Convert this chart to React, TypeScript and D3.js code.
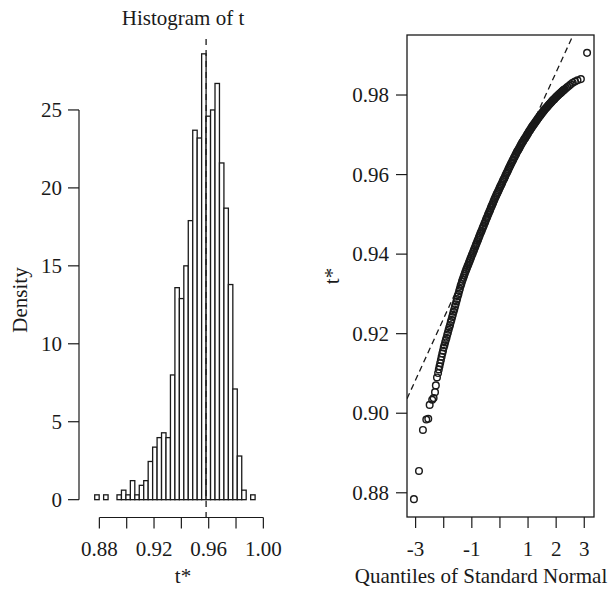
import React, { useEffect, useRef } from "react";
import * as d3 from "d3";

// bootstrap replicates t*: histogram of densities and a normal QQ plot
const t0 = 0.9581; // original statistic, dashed line in the histogram
const binWidth = 0.00326;
const firstBreak = t0 - 27 * binWidth;
const densities = [
  0, 0, 0.31, 0, 0.31, 0, 0, 0.31, 0.61, 0.31, 1.22, 0.31, 0.92, 1.22, 2.45, 3.37,
  3.98, 4.29, 3.98, 8.0, 13.6, 12.9, 15.0, 17.9, 23.7, 23.2, 28.6, 24.6, 25.0, 26.7,
  21.6, 18.7, 13.8, 7.1, 2.8, 0.61, 0, 0.31, 0,
];
const histXDomain = [0.8651, 1.0173];
const histXTicks = [0.88, 0.9, 0.92, 0.94, 0.96, 0.98, 1.0];
const histXLabels = ["0.88", "", "0.92", "", "0.96", "", "1.00"];
const histYTicks = [0, 5, 10, 15, 20, 25];

// QQ plot, lower tail: theoretical quantile z, sorted t*
const lowZ = [-3.06, -2.88, -2.74, -2.62, -2.55, -2.5, -2.41, -2.36, -2.31, -2.28, -2.24, -2.2, -2.175];
const lowT = [0.8784, 0.8855, 0.8958, 0.8984, 0.8986, 0.9021, 0.9034, 0.9038, 0.9053, 0.907, 0.909, 0.9101, 0.911];
// dense middle band, read every 0.025 in z from -2.15 to 2.30
const bandZ0 = -2.15;
const bandStep = 0.025;
const bandT = [
  0.9118, 0.9126, 0.9134, 0.9142, 0.915, 0.9157, 0.9165,
  0.9171, 0.9178, 0.9184, 0.919, 0.9197, 0.9203, 0.921, 0.9216,
  0.9222, 0.9229, 0.9235, 0.9242, 0.9248, 0.9255, 0.9261, 0.9268,
  0.9274, 0.9281, 0.9287, 0.9294, 0.93, 0.9307, 0.9313, 0.932,
  0.9325, 0.9331, 0.9336, 0.9341, 0.9346, 0.9351, 0.9356, 0.9361,
  0.9365, 0.937, 0.9374, 0.9379, 0.9383, 0.9388, 0.9392, 0.9397,
  0.9401, 0.9406, 0.941, 0.9415, 0.9419, 0.9424, 0.9428, 0.9433,
  0.9437, 0.9442, 0.9446, 0.9451, 0.9455, 0.9459, 0.9464, 0.9468,
  0.9472, 0.9477, 0.9481, 0.9486, 0.949, 0.9494, 0.9499, 0.9503,
  0.9507, 0.9511, 0.9516, 0.952, 0.9524, 0.9528, 0.9533, 0.9537,
  0.9541, 0.9545, 0.9549, 0.9553, 0.9556, 0.956, 0.9564, 0.9568,
  0.9572, 0.9575, 0.9579, 0.9583, 0.9587, 0.959, 0.9594, 0.9598,
  0.9602, 0.9605, 0.9609, 0.9613, 0.9617, 0.962, 0.9624, 0.9628,
  0.9631, 0.9635, 0.9638, 0.9642, 0.9645, 0.9649, 0.9652, 0.9656,
  0.9659, 0.9662, 0.9665, 0.9668, 0.9672, 0.9675, 0.9678, 0.9681,
  0.9684, 0.9687, 0.969, 0.9692, 0.9695, 0.9698, 0.9701, 0.9704,
  0.9707, 0.971, 0.9712, 0.9715, 0.9718, 0.9721, 0.9723, 0.9726,
  0.9728, 0.9731, 0.9733, 0.9736, 0.9738, 0.9741, 0.9743, 0.9746,
  0.9748, 0.975, 0.9753, 0.9755, 0.9757, 0.9759, 0.9762, 0.9764,
  0.9766, 0.9768, 0.977, 0.9772, 0.9774, 0.9776, 0.9778, 0.978,
  0.9782, 0.9784, 0.9786, 0.9788, 0.9789, 0.9791, 0.9793, 0.9795,
  0.9797, 0.9798, 0.98, 0.9802, 0.9803, 0.9805, 0.9806, 0.9808,
  0.981, 0.9811, 0.9813, 0.9814,
];
// upper tail
const highZ = [2.35, 2.4, 2.46, 2.52, 2.59, 2.67, 2.76, 2.88, 3.1];
const highT = [0.9817, 0.982, 0.9823, 0.9827, 0.9831, 0.9834, 0.9837, 0.984, 0.9906];

const qqYTicks = [0.88, 0.9, 0.92, 0.94, 0.96, 0.98];
const qqXTicks = [-3, -2, -1, 0, 1, 2, 3];
const qqXLabels = ["-3", "", "-1", "", "1", "2", "3"];
const lineIntercept = 0.9548; // mean of t*
const lineSlope = 0.01547; // sd of t*

const FONT = "'Liberation Serif', 'Times New Roman', serif";
const INK = "#1a1a1a";

const App = () => {
  const svgRef = useRef<SVGSVGElement>(null);

  useEffect(() => {
    const svg = d3.select(svgRef.current);
    svg.selectAll("*").remove();
    const tickLen = 11;

    // ---------- histogram ----------
    const h = { left: 79, right: 287, top: 36, bottom: 517.5 };
    const maxD = d3.max(densities) as number;
    const x = d3.scaleLinear().domain(histXDomain).range([h.left, h.right]);
    const y = d3
      .scaleLinear()
      .domain([-0.04 * maxD, maxD * 1.04])
      .range([h.bottom, h.top]);

    const bins = densities.map((d, i) => ({
      x0: firstBreak + i * binWidth,
      x1: firstBreak + (i + 1) * binWidth,
      d,
    }));

    const hg = svg.append("g");
    hg.append("g")
      .selectAll("rect")
      .data(bins)
      .join("rect")
      .attr("x", (b) => x(b.x0))
      .attr("width", (b) => x(b.x1) - x(b.x0))
      .attr("y", (b) => y(b.d))
      .attr("height", (b) => y(0) - y(b.d))
      .attr("fill", "white")
      .attr("stroke", INK)
      .attr("stroke-width", 1.3);

    hg.append("line")
      .attr("x1", x(t0))
      .attr("x2", x(t0))
      .attr("y1", h.top + 3)
      .attr("y2", h.bottom)
      .attr("stroke", INK)
      .attr("stroke-width", 1.3)
      .attr("stroke-dasharray", "6,5");

    // x axis
    const xa = hg.append("g");
    xa.append("line")
      .attr("x1", x(histXTicks[0]))
      .attr("x2", x(histXTicks[histXTicks.length - 1]))
      .attr("y1", h.bottom)
      .attr("y2", h.bottom)
      .attr("stroke", INK)
      .attr("stroke-width", 1.2);
    histXTicks.forEach((v, i) => {
      xa.append("line")
        .attr("x1", x(v))
        .attr("x2", x(v))
        .attr("y1", h.bottom)
        .attr("y2", h.bottom + tickLen)
        .attr("stroke", INK)
        .attr("stroke-width", 1.2);
      if (histXLabels[i])
        xa.append("text")
          .attr("x", x(v))
          .attr("y", 556)
          .attr("text-anchor", "middle")
          .text(histXLabels[i]);
    });

    // y axis
    const ya = hg.append("g");
    ya.append("line")
      .attr("x1", h.left)
      .attr("x2", h.left)
      .attr("y1", y(0))
      .attr("y2", y(25))
      .attr("stroke", INK)
      .attr("stroke-width", 1.2);
    histYTicks.forEach((v) => {
      ya.append("line")
        .attr("x1", h.left - tickLen)
        .attr("x2", h.left)
        .attr("y1", y(v))
        .attr("y2", y(v))
        .attr("stroke", INK)
        .attr("stroke-width", 1.2);
      ya.append("text")
        .attr("x", 62)
        .attr("y", y(v) + 7)
        .attr("text-anchor", "end")
        .text(v);
    });

    hg.append("text")
      .attr("x", 183)
      .attr("y", 25)
      .attr("text-anchor", "middle")
      .text("Histogram of t");
    hg.append("text")
      .attr("x", 183)
      .attr("y", 583)
      .attr("text-anchor", "middle")
      .text("t*");
    hg.append("text")
      .attr("transform", "translate(27,300) rotate(-90)")
      .attr("text-anchor", "middle")
      .text("Density");

    // ---------- QQ plot ----------
    const pts: [number, number][] = [
      ...lowZ.map((z, i) => [z, lowT[i]] as [number, number]),
      ...bandT.map((t, i) => [bandZ0 + i * bandStep, t] as [number, number]),
      ...highZ.map((z, i) => [z, highT[i]] as [number, number]),
    ];
    const q = { left: 407, right: 594, top: 35, bottom: 517 };
    const [zMin, zMax] = d3.extent(pts, (d) => d[0]) as [number, number];
    const [tMin, tMax] = d3.extent(pts, (d) => d[1]) as [number, number];
    const zPad = 0.04 * (zMax - zMin);
    const tPad = 0.04 * (tMax - tMin);
    const qx = d3.scaleLinear().domain([zMin - zPad, zMax + zPad]).range([q.left, q.right]);
    const qy = d3.scaleLinear().domain([tMin - tPad, tMax + tPad]).range([q.bottom, q.top]);

    const qg = svg.append("g");
    qg.append("clipPath")
      .attr("id", "qqclip")
      .append("rect")
      .attr("x", q.left)
      .attr("y", q.top)
      .attr("width", q.right - q.left)
      .attr("height", q.bottom - q.top);

    qg.append("g")
      .selectAll("circle")
      .data(pts)
      .join("circle")
      .attr("cx", (d) => qx(d[0]))
      .attr("cy", (d) => qy(d[1]))
      .attr("r", 3.3)
      .attr("fill", "none")
      .attr("stroke", INK)
      .attr("stroke-width", 1.45);

    const [d0, d1] = qx.domain();
    qg.append("line")
      .attr("clip-path", "url(#qqclip)")
      .attr("x1", qx(d0))
      .attr("x2", qx(d1))
      .attr("y1", qy(lineIntercept + lineSlope * d0))
      .attr("y2", qy(lineIntercept + lineSlope * d1))
      .attr("stroke", INK)
      .attr("stroke-width", 1.3)
      .attr("stroke-dasharray", "6,4");

    qg.append("rect")
      .attr("x", q.left)
      .attr("y", q.top)
      .attr("width", q.right - q.left)
      .attr("height", q.bottom - q.top)
      .attr("fill", "none")
      .attr("stroke", INK)
      .attr("stroke-width", 1.3);

    qqXTicks.forEach((v, i) => {
      qg.append("line")
        .attr("x1", qx(v))
        .attr("x2", qx(v))
        .attr("y1", q.bottom)
        .attr("y2", q.bottom + tickLen)
        .attr("stroke", INK)
        .attr("stroke-width", 1.2);
      if (qqXLabels[i])
        qg.append("text")
          .attr("x", qx(v))
          .attr("y", 556)
          .attr("text-anchor", "middle")
          .text(qqXLabels[i]);
    });
    qqYTicks.forEach((v) => {
      qg.append("line")
        .attr("x1", q.left - tickLen)
        .attr("x2", q.left)
        .attr("y1", qy(v))
        .attr("y2", qy(v))
        .attr("stroke", INK)
        .attr("stroke-width", 1.2);
      qg.append("text")
        .attr("x", 389)
        .attr("y", qy(v) + 7)
        .attr("text-anchor", "end")
        .text(d3.format(".2f")(v));
    });
    qg.append("text")
      .attr("x", 481)
      .attr("y", 583)
      .attr("text-anchor", "middle")
      .text("Quantiles of Standard Normal");
    qg.append("text")
      .attr("transform", "translate(339,276) rotate(-90)")
      .attr("text-anchor", "middle")
      .text("t*");

    svg.selectAll("text").attr("font-family", FONT).attr("font-size", 21).attr("fill", INK);
  }, []);

  return (
    <svg
      ref={svgRef}
      width={613}
      height={592}
      style={{ position: "absolute", left: 0, top: 0, background: "white" }}
    />
  );
};

export default App;
